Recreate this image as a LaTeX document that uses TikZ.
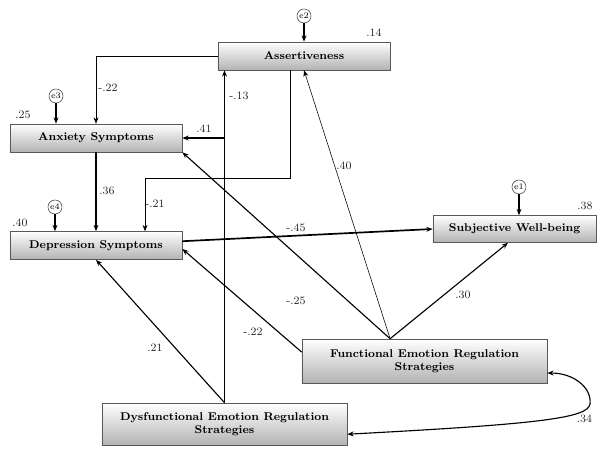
\documentclass[tikz,border=0pt]{standalone}
\usetikzlibrary{arrows.meta,calc}
\begin{document}
\begin{tikzpicture}[x=0.025cm,y=-0.025cm,>={Stealth[length=4.5pt,width=3.5pt]},
		box/.style={draw=black!65,top color=white,bottom color=black!30,font=\fontsize{8}{9.5}\selectfont\bfseries,align=center,inner sep=0pt},
		err/.style={draw=black!75,circle,inner sep=0pt,minimum size=0.35cm,font=\fontsize{6}{7}\selectfont},
		coef/.style={font=\fontsize{8}{9.5}\selectfont,text=black!85}]
		\useasboundingbox (0,0) rectangle (597,448);
		% boxes
		\node[box,minimum width=4.3cm,minimum height=0.7cm] (assert) at (304,56) {Assertiveness};
		\node[box,minimum width=4.3cm,minimum height=0.7cm] (anx) at (96,138) {Anxiety Symptoms};
		\node[box,minimum width=4.3cm,minimum height=0.7cm] (dep) at (96,245.5) {Depression Symptoms};
		\node[box,minimum width=4.075cm,minimum height=0.675cm] (swb) at (514.5,229) {Subjective Well-being};
		\node[box,minimum width=6.125cm,minimum height=1.1cm] (fun) at (424.5,361) {Functional Emotion Regulation\\Strategies};
		\node[box,minimum width=6.125cm,minimum height=1.05cm] (dysf) at (224.5,424) {Dysfunctional Emotion Regulation\\Strategies};
		% errors
		\node[err] (e2) at (304,16) {e2};
		\node[err] (e3) at (56,96) {e3};
		\node[err] (e4) at (55,207) {e4};
		\node[err] (e1) at (519,187) {e1};
		\draw[->,thick] (e2) -- (e2 |- assert.north);
		\draw[->,thick] (e3) -- (e3 |- anx.north);
		\draw[->,thick] (e4) -- (e4 |- dep.north);
		\draw[->,thick] (e1) -- (e1 |- swb.north);
		% helper points
		\coordinate (funtop) at ($(fun.north west)!0.36!(fun.north east)$);
		\coordinate (funleft) at ($(fun.north west)!0.3!(fun.south west)$);
		\coordinate (funright) at ($(fun.north east)!0.77!(fun.south east)$);
		\coordinate (dysright) at ($(dysf.north east)!0.74!(dysf.south east)$);
		\coordinate (asbot) at ($(assert.south west)!0.42!(assert.south east)$);
		\coordinate (swbbot) at ($(swb.south west)!0.46!(swb.south east)$);
		\coordinate (depout) at ($(dep.north east)!0.35!(dep.south east)$);
		\coordinate (depin) at ($(dep.north east)!0.62!(dep.south east)$);
		\coordinate (bend) at (145,178);
		\coordinate (turn) at (590,404);
		% paths
		\draw[->] (assert.west) -| (anx.north);
		\draw[->,thick] (anx.south) -- (dep.north);
		\draw[->] (asbot) |- (bend) -- (bend |- dep.north);
		\draw[->,thick] (dysf.north) -- (dysf.north |- assert.south);
		\draw[->,thick] (dysf.north) |- (anx.east);
		\draw[->,thick] (dysf.north) -- (dep.south);
		\draw[->,thick] (funtop) -- (anx.south east);
		\draw[->,thick] (funleft) -- (depin);
		\draw[->] (funtop) -- (assert.south);
		\draw[->,thick] (funtop) -- (swbbot);
		\draw[->,very thick] (depout) -- (swb.west);
		\draw[<->,thick] (funright) .. controls (574,373) and (592,388) .. (turn)
			.. controls (588,418) and (540,424) .. (dysright);
		% coefficients
		\node[coef] (r2) at (374,33) {.14};
		\node[coef] (r3) at (23,115) {.25};
		\node[coef] (r4) at (20,223) {.40};
		\node[coef] (r1) at (585,206) {.38};
		\node[coef] (c1) at (108,88) {-.22};
		\node[coef] (c2) at (239,96) {-.13};
		\node[coef] (c3) at (204,129) {.41};
		\node[coef] (c4) at (107,191) {.36};
		\node[coef] (c5) at (155,204) {-.21};
		\node[coef] (c6) at (296,228) {-.45};
		\node[coef] (c7) at (344,166) {.40};
		\node[coef] (c8) at (463,295) {.30};
		\node[coef] (c9) at (296,301) {-.25};
		\node[coef] (c10) at (253,332) {-.22};
		\node[coef] (c11) at (155,348) {.21};
		\node[coef,anchor=east] (c12) at (597,419) {.34};
	\end{tikzpicture}
\end{document}
